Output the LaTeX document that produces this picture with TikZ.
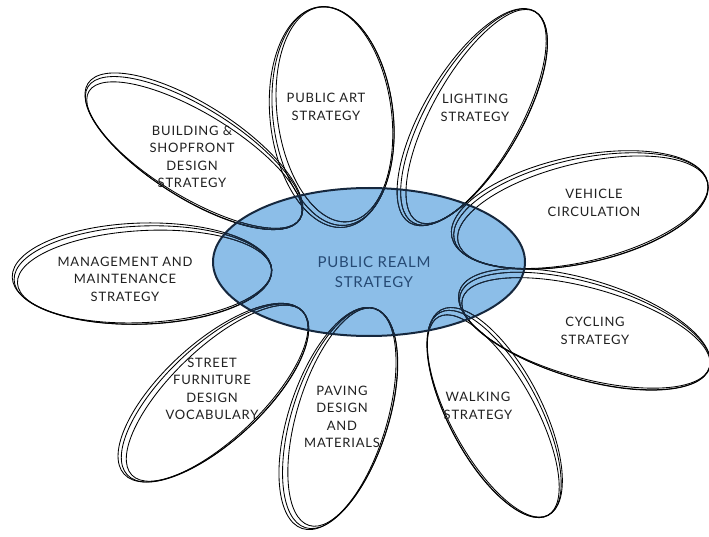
\documentclass[tikz,border=0pt]{standalone}
\usepackage{fontspec}
\setmainfont{Lato}
\newfontfamily\lblfont[LetterSpace=6]{Lato}
\newfontfamily\corefont[LetterSpace=5]{Lato}
\definecolor{blobfill}{RGB}{140,190,232}
\definecolor{navy}{RGB}{22,40,62}
\definecolor{ink}{RGB}{32,32,32}
\definecolor{realm}{RGB}{38,74,116}

% one sketched petal: centre x, centre y, axis angle, half length, half width, colour
\newcommand\petal[6]{%
  \begin{scope}[shift={(#1,#2)},rotate=#3,draw=#6,line width=0.85pt]
    \draw (0,0) ellipse [x radius=#4, y radius=#5];
    \draw[rotate=0.8] (1.4,1.6) ellipse [x radius=#4-1.8, y radius=#5-3];
    \draw[rotate=-0.6] (-1,-1.4) ellipse [x radius=#4+0.8, y radius=#5+1.6];
  \end{scope}}

% the whole ring of petals in a given colour
\newcommand\allpetals[1]{%
  \petal{333}{116}{97}{110}{60}{#1}
  \petal{474}{117}{60}{122}{47}{#1}
  \petal{581}{211}{12.7}{130}{52}{#1}
  \petal{585}{331}{-16.3}{130}{48}{#1}
  \petal{494}{414}{-61.9}{115}{45}{#1}
  \petal{340}{418}{72.4}{115}{48}{#1}
  \petal{215}{393}{43}{120}{48}{#1}
  \petal{143}{275}{2.2}{129}{49}{#1}
  \petal{194}{153}{-32}{125}{45}{#1}}

\tikzset{
  label/.style={text=ink,align=center,font=\lblfont\fontsize{13}{17.5}\selectfont},
  core/.style={text=realm,align=center,font=\corefont\fontsize{15}{20}\selectfont}
}

\begin{document}
\begin{tikzpicture}[x=1pt,y=-1pt]
  \useasboundingbox[fill=white] (0,0) rectangle (709,537);

  % centre disc
  \fill[blobfill] (369,262) ellipse [x radius=156, y radius=74];

  % petals, darker where they pass over the disc
  \allpetals{black}
  \begin{scope}
    \clip (369,262) ellipse [x radius=156, y radius=74];
    \allpetals{navy}
  \end{scope}
  \draw[navy,line width=2pt] (369,262) ellipse [x radius=156, y radius=74];

  % labels
  \node[core]  (realm)   at (374,272) {PUBLIC REALM\\STRATEGY};
  \node[label] (art)     at (326,107) {PUBLIC ART\\STRATEGY};
  \node[label] (light)   at (475,108) {LIGHTING\\STRATEGY};
  \node[label] (vehicle) at (594,203) {VEHICLE\\CIRCULATION};
  \node[label] (cycle)   at (595,331) {CYCLING\\STRATEGY};
  \node[label] (walk)    at (478,406) {WALKING\\STRATEGY};
  \node[label] (paving)  at (342,417) {PAVING\\DESIGN\\AND\\MATERIALS};
  \node[label] (street)  at (212,389) {STREET\\FURNITURE\\DESIGN\\VOCABULARY};
  \node[label] (manage)  at (125,279) {MANAGEMENT AND\\MAINTENANCE\\STRATEGY};
  \node[label] (build)   at (192,157) {BUILDING \&\\SHOPFRONT\\DESIGN\\STRATEGY};
\end{tikzpicture}
\end{document}
